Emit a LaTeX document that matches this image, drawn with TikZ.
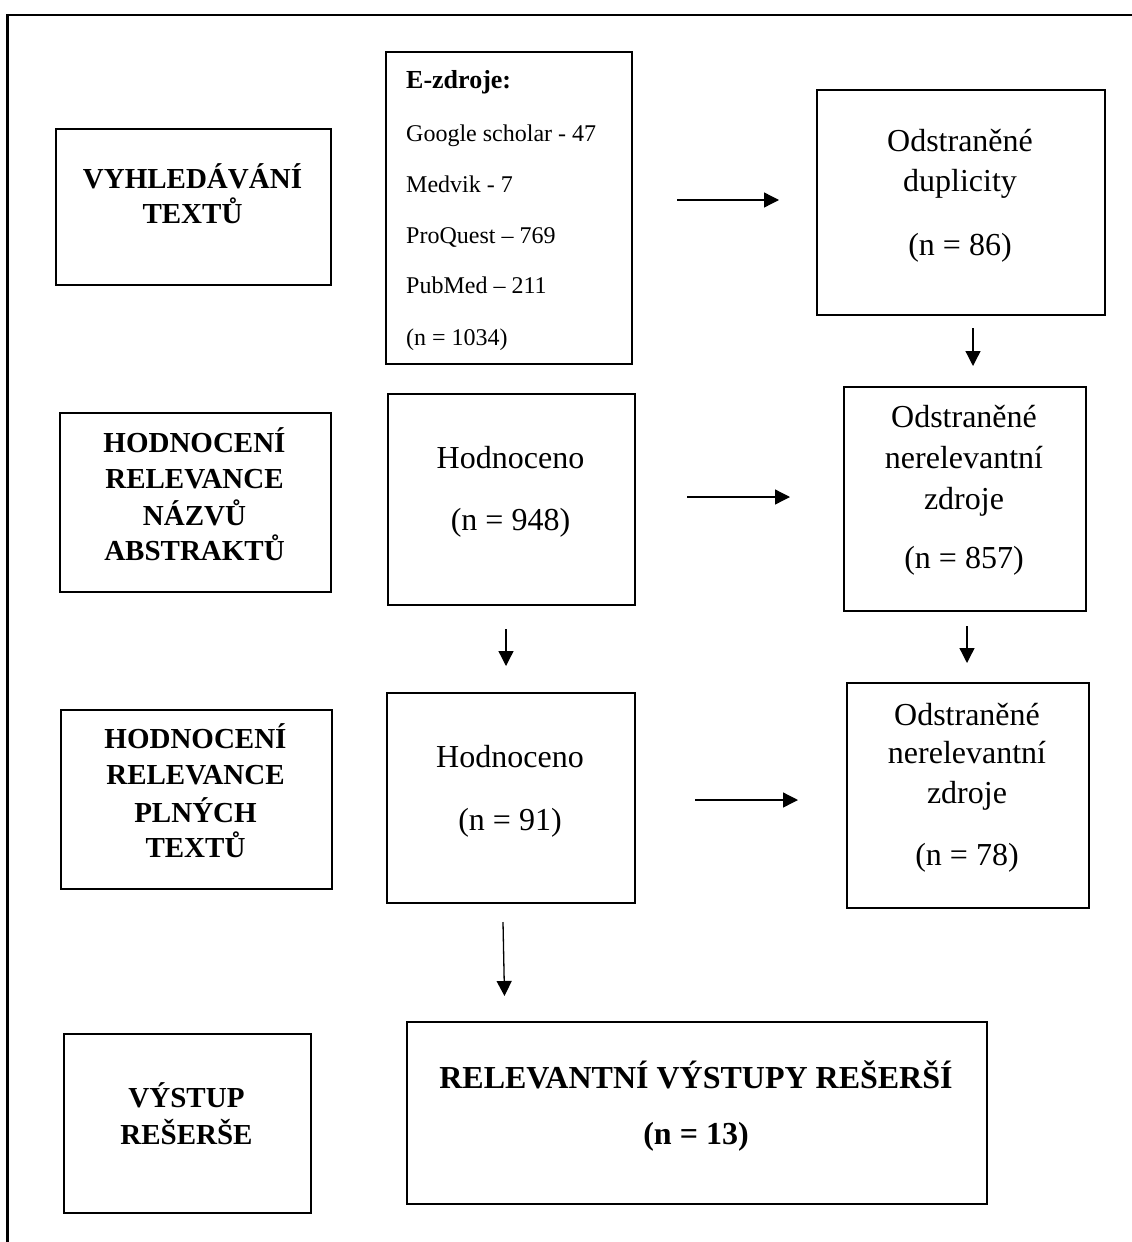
\documentclass[tikz,border=0pt]{standalone}
\usepackage{fontspec}
\setmainfont{Liberation Serif}
\usetikzlibrary{arrows.meta}
\begin{document}
\begin{tikzpicture}[x=1pt,y=-1pt,
  box/.style={draw, line width=2pt, inner sep=0pt, anchor=north west},
  arr/.style={-{Triangle[length=15pt,width=15pt]}, line width=1.3pt},
  reg/.style={font=\fontsize{32}{38}\selectfont, inner sep=0pt, anchor=base},
  hdr/.style={font=\fontsize{29}{35}\selectfont\bfseries, inner sep=0pt, anchor=base},
  big/.style={font=\fontsize{32}{38}\selectfont\bfseries, inner sep=0pt, anchor=base},
  src/.style={font=\fontsize{24}{28}\selectfont, inner sep=0pt, anchor=base west},
  srcb/.style={font=\fontsize{26}{30}\selectfont\bfseries, inner sep=0pt, anchor=base west}]
\useasboundingbox (0,0) rectangle (1132,1242);
% outer frame (only top and left edges visible)
\draw[line width=2.5pt] (7.5,1250) -- (7.5,15) -- (1140,15);

% boxes
\node[box, minimum width=275pt, minimum height=156pt] (vyh) at (55,128) {};
\node[box, minimum width=246pt, minimum height=312pt] (ez) at (385,51) {};
\node[box, minimum width=288pt, minimum height=225pt] (dup) at (816,89) {};
\node[box, minimum width=271pt, minimum height=179pt] (hna) at (59,412) {};
\node[box, minimum width=247pt, minimum height=211pt] (h948) at (387,393) {};
\node[box, minimum width=242pt, minimum height=224pt] (n857) at (843,386) {};
\node[box, minimum width=271pt, minimum height=179pt] (hpl) at (60,709) {};
\node[box, minimum width=248pt, minimum height=210pt] (h91) at (386,692) {};
\node[box, minimum width=242pt, minimum height=225pt] (n78) at (846,682) {};
\node[box, minimum width=247pt, minimum height=179pt] (vyst) at (63,1033) {};
\node[box, minimum width=580pt, minimum height=182pt] (rel) at (406,1021) {};

% texts
\foreach \t/\y [count=\i] in {VYHLEDÁVÁNÍ/188, TEXTŮ/223}
  \node[hdr] (vyh-\i) at (192.5,\y) {\t};
\node[srcb] (ez-1) at (406,88) {E-zdroje:};
\foreach \t/\y [count=\i from 2] in {Google scholar - 47/141, Medvik - 7/192, ProQuest – 769/243, PubMed – 211/293, (n = 1034)/345}
  \node[src] (ez-\i) at (406,\y) {\t};
\foreach \t/\y [count=\i] in {Odstraněné/151, duplicity/191, (n = 86)/255}
  \node[reg] (dup-\i) at (960,\y) {\t};
\foreach \t/\y [count=\i] in {HODNOCENÍ/452, RELEVANCE/488, NÁZVŮ/525, ABSTRAKTŮ/560}
  \node[hdr] (hna-\i) at (194.5,\y) {\t};
\foreach \t/\y [count=\i] in {Hodnoceno/468, (n = 948)/530}
  \node[reg] (h948-\i) at (510.5,\y) {\t};
\foreach \t/\y [count=\i] in {Odstraněné/427, nerelevantní/468, zdroje/509, (n = 857)/568}
  \node[reg] (n857-\i) at (964,\y) {\t};
\foreach \t/\y [count=\i] in {HODNOCENÍ/748, RELEVANCE/784, PLNÝCH/822, TEXTŮ/857}
  \node[hdr] (hpl-\i) at (195.5,\y) {\t};
\foreach \t/\y [count=\i] in {Hodnoceno/767, (n = 91)/830}
  \node[reg] (h91-\i) at (510,\y) {\t};
\foreach \t/\y [count=\i] in {Odstraněné/725, nerelevantní/763, zdroje/803, (n = 78)/865}
  \node[reg] (n78-\i) at (967,\y) {\t};
\foreach \t/\y [count=\i] in {VÝSTUP/1107, REŠERŠE/1144}
  \node[hdr] (vyst-\i) at (186.5,\y) {\t};
\node[big] (rel-1) at (696,1088) {RELEVANTNÍ VÝSTUPY REŠERŠÍ};
\node[big] (rel-2) at (696,1144) {(n = 13)};

% connectors
\draw[arr] ([shift={(44,-8)}]ez.east) -- ([shift={(-37,-2.5)}]dup.west);
\draw[arr] ([shift={(12,12)}]dup.south) -- ([shift={(8,-20)}]n857.north);
\draw[arr] ([shift={(51,-2.5)}]h948.east) -- ([shift={(-53,-2)}]n857.west);
\draw[arr] ([shift={(-5.5,23)}]h948.south) -- ([shift={(-5,-26)}]h91.north);
\draw[arr] ([shift={(2,14)}]n857.south) -- ([shift={(-1,-19)}]n78.north);
\draw[arr] ([shift={(59,2)}]h91.east) -- ([shift={(-48,4.5)}]n78.west);
\draw[arr] ([shift={(-8,18)}]h91.south) -- ([shift={(-192.5,-25)}]rel.north);
\end{tikzpicture}
\end{document}
